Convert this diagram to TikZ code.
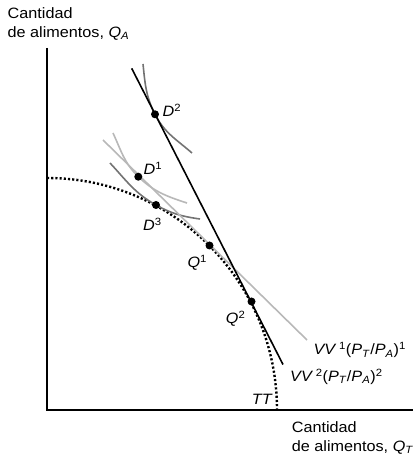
\documentclass[tikz,border=0pt]{standalone}
\usepackage{fontspec}
\setmainfont{Liberation Sans}
\usepackage{graphicx}
\newcommand{\wt}[1]{\scalebox{1.08}[1]{#1}}
\definecolor{darkg}{gray}{0.45}
\definecolor{lightg}{gray}{0.72}
\begin{document}
\begin{tikzpicture}[x=1pt,y=1pt,
  lbl/.style={anchor=base west,inner sep=0pt,font=\fontsize{15}{18}\selectfont},
  dotpt/.style={circle,fill=black,inner sep=0pt,minimum size=8pt},
  axisline/.style={line width=2pt},
  ppf/.style={line width=2.4pt,dash pattern=on 2.1pt off 2.1pt},
  budget/.style={line width=1.6pt},
  indiff/.style={line width=1.6pt}]
\useasboundingbox (0,0) rectangle (415,457);
% coordinates
\coordinate (O) at (47,47);
\coordinate (Ytop) at (47,409);
\coordinate (Xend) at (413,47);
\coordinate (PPFtop) at (47,279);
\coordinate (V2a) at (131.7,388.6);
\coordinate (V2b) at (283,92.5);
\coordinate (V1a) at (103,317);
\coordinate (V1b) at (307,117);
\coordinate (U2a) at (143,393);
\coordinate (U2b) at (192,304);
\coordinate (U1a) at (113,324);
\coordinate (U1b) at (187,254);
\coordinate (U3a) at (110,294);
\coordinate (U3b) at (200,238);
% axes
\draw[axisline] (Ytop) -- (O) -- (Xend);
% PPF
\draw[ppf] (PPFtop) arc[start angle=90,end angle=0,x radius=230,y radius=232];
% indifference curves
\draw[indiff,lightg] (U1a) to[out=-65,in=136] (138.3,280.3) to[out=-44,in=162] (U1b);
\draw[indiff,darkg] (U3a) to[out=-47,in=151] (156,252) to[out=-29,in=172] (U3b);
\draw[indiff,darkg] (U2a) to[out=-84,in=117] (155,342.7) to[out=-63,in=139] (U2b);
% budget lines
\draw[budget,lightg] (V1a) -- (V1b);
\draw[budget,black] (V2a) -- (V2b);
% points
\node[dotpt] (D2) at (155,342.7) {};
\node[dotpt] (D1) at (138.3,280.3) {};
\node[dotpt] (D3) at (156,252) {};
\node[dotpt] (Q1) at (209.5,211.5) {};
\node[dotpt] (Q2) at (251.5,155.5) {};
% labels
\node[lbl] (lD2) at (162.5,340.5) {\wt{\textit{D}\textsuperscript{2}}};
\node[lbl] (lD1) at (143.5,282) {\wt{\textit{D}\textsuperscript{1}}};
\node[lbl] (lD3) at (143,226) {\wt{\textit{D}\textsuperscript{3}}};
\node[lbl] (lQ1) at (187.3,189.3) {\wt{\textit{Q}\textsuperscript{1}}};
\node[lbl] (lQ2) at (225.7,133.7) {\wt{\textit{Q}\textsuperscript{2}}};
\node[lbl] (lTT) at (251.7,52) {\wt{\textit{TT}}};
\node[lbl] (lV1) at (313.3,102) {\wt{\textit{VV}\,\textsuperscript{1}(\textit{P}\textsubscript{\textit{T}}/\textit{P}\textsubscript{\textit{A}})\textsuperscript{1}}};
\node[lbl] (lV2) at (290,75.3) {\wt{\textit{VV}\,\textsuperscript{2}(\textit{P}\textsubscript{\textit{T}}/\textit{P}\textsubscript{\textit{A}})\textsuperscript{2}}};
\node[lbl] (ya1) at (7.5,438) {\wt{Cantidad}};
\node[lbl] (ya2) at (7.5,419.7) {\wt{de alimentos, \textit{Q}\textsubscript{\textit{A}}}};
\node[lbl] (xa1) at (291.7,24.3) {\wt{Cantidad}};
\node[lbl] (xa2) at (291.7,5.3) {\wt{de alimentos, \textit{Q}\textsubscript{\textit{T}}}};
\end{tikzpicture}
\end{document}
